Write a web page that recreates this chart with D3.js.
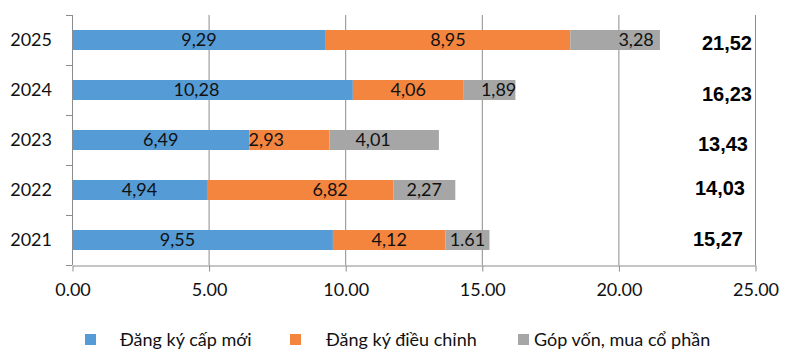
<!DOCTYPE html>
<html>
<head>
<meta charset="utf-8">
<script src="https://cdn.jsdelivr.net/npm/d3@7"></script>
<style>
  html, body { margin: 0; padding: 0; background: #fff; }
  svg { display: block; }
</style>
</head>
<body>
<svg id="chart" width="796" height="357"></svg>
<script>
// ---- data ----
const years = ["2025", "2024", "2023", "2022", "2021"];
const seriesNames = ["Đăng ký cấp mới", "Đăng ký điều chỉnh", "Góp vốn, mua cổ phần"];
const newReg = [9.29, 10.28, 6.49, 4.94, 9.55];
const adjReg = [8.95, 4.06, 2.93, 6.82, 4.12];
const capContrib = [3.28, 1.89, 4.01, 2.27, 1.61];
const newRegLabels = ["9,29", "10,28", "6,49", "4,94", "9,55"];
const adjRegLabels = ["8,95", "4,06", "2,93", "6,82", "4,12"];
const capContribLabels = ["3,28", "1,89", "4,01", "2,27", "1.61"];
const totalLabels = ["21,52", "16,23", "13,43", "14,03", "15,27"];
const xTicks = [0, 5, 10, 15, 20, 25];

// ---- styles / layout ----
const colors = ["#559BD5", "#F4853F", "#A6A6A6"];
const labelFont = "Lato, 'Open Sans', sans-serif";
const fs = 18;
const W = 796, H = 357;
const m = { left: 72, right: 41, top: 15, bottom: 92 };

// manual label nudges (px) as in the reference [series][year]
const labelNudge = [
  [0, -16, 0, 0, -25],
  [0, 0, -23, 30, 0],
  [21, 9, -11, 0, 0]
];
const totalNudge = [[0, 3], [0, 4], [-4, 4], [-7, -2.5], [-9, -1.5]];

const svg = d3.select("#chart");
const x = d3.scaleLinear().domain([0, 25]).range([m.left, W - m.right]);
const y = d3.scaleBand().domain(years).range([m.top, H - m.bottom]).paddingInner(0.6).paddingOuter(0.3);
const yTickScale = d3.scaleBand().domain(years).range([m.top, H - m.bottom]);

// gridlines
svg.append("g")
  .selectAll("line")
  .data(xTicks.slice(1))
  .join("line")
  .attr("x1", d => x(d) + 0.5).attr("x2", d => x(d) + 0.5)
  .attr("y1", m.top).attr("y2", H - m.bottom)
  .attr("stroke", "#8C8C8C").attr("stroke-width", 1);

// stacked data
const table = years.map((yr, i) => ({ year: yr, a: newReg[i], b: adjReg[i], c: capContrib[i] }));
const stack = d3.stack().keys(["a", "b", "c"])(table);
const labelArrays = [newRegLabels, adjRegLabels, capContribLabels];

stack.forEach((layer, si) => {
  svg.append("g")
    .selectAll("rect")
    .data(layer)
    .join("rect")
    .attr("x", d => x(d[0]))
    .attr("width", d => x(d[1]) - x(d[0]))
    .attr("y", d => y(d.data.year))
    .attr("height", y.bandwidth())
    .attr("fill", colors[si]);
});

stack.forEach((layer, si) => {
  svg.append("g")
    .selectAll("text")
    .data(layer)
    .join("text")
    .attr("x", (d, i) => (x(d[0]) + x(d[1])) / 2 + labelNudge[si][i])
    .attr("y", d => y(d.data.year) + y.bandwidth() / 2)
    .attr("dy", "0.36em")
    .attr("text-anchor", "middle")
    .attr("font-family", labelFont)
    .attr("font-size", fs)
    .attr("fill", "#111")
    .text((d, i) => labelArrays[si][i]);
});

// totals
svg.append("g")
  .selectAll("text")
  .data(totalLabels)
  .join("text")
  .attr("x", (d, i) => x(25) - 3 + totalNudge[i][0])
  .attr("y", (d, i) => y(years[i]) + y.bandwidth() / 2 + totalNudge[i][1])
  .attr("dy", "0.36em")
  .attr("text-anchor", "end")
  .attr("font-family", "'Liberation Sans', Arial, sans-serif")
  .attr("font-weight", "bold")
  .attr("font-size", 20)
  .attr("fill", "#000")
  .text(d => d);

// y axis
const yAxisG = svg.append("g");
yAxisG.append("line")
  .attr("x1", m.left + 0.5).attr("x2", m.left + 0.5)
  .attr("y1", m.top).attr("y2", H - m.bottom)
  .attr("stroke", "#8C8C8C");
const yEdges = years.map(d => yTickScale(d)).concat([H - m.bottom]);
yAxisG.selectAll("line.t")
  .data(yEdges)
  .join("line")
  .attr("class", "t")
  .attr("x1", m.left - 6).attr("x2", m.left)
  .attr("y1", d => d + 0.5).attr("y2", d => d + 0.5)
  .attr("stroke", "#8C8C8C");
yAxisG.selectAll("text")
  .data(years)
  .join("text")
  .attr("x", 52)
  .attr("y", d => y(d) + y.bandwidth() / 2)
  .attr("dy", "0.36em")
  .attr("text-anchor", "end")
  .attr("font-family", labelFont)
  .attr("font-size", fs)
  .attr("fill", "#111")
  .text(d => d);

// x axis
const xAxis = d3.axisBottom(x).tickValues(xTicks).tickFormat(d3.format(".2f")).tickSize(6).tickSizeOuter(0);
const xg = svg.append("g").attr("transform", `translate(0.5,${H - m.bottom + 0.5})`).call(xAxis);
xg.select(".domain").attr("stroke", "#8C8C8C");
xg.selectAll(".tick line").attr("stroke", "#8C8C8C");
xg.selectAll(".tick text")
  .attr("font-family", labelFont)
  .attr("font-size", fs)
  .attr("fill", "#111")
  .attr("y", 18)
  .attr("dy", "0.71em");

// legend
const legendX = [85, 290, 518];
const legendTextX = [120, 326, 534];
const lg = svg.append("g");
seriesNames.forEach((name, i) => {
  lg.append("rect")
    .attr("x", legendX[i]).attr("y", 334)
    .attr("width", 11).attr("height", 11)
    .attr("fill", colors[i]);
  lg.append("text")
    .attr("x", legendTextX[i]).attr("y", 339.5)
    .attr("dy", "0.36em")
    .attr("font-family", labelFont)
    .attr("font-size", fs)
    .attr("fill", "#111")
    .text(name);
});
</script>
</body>
</html>
